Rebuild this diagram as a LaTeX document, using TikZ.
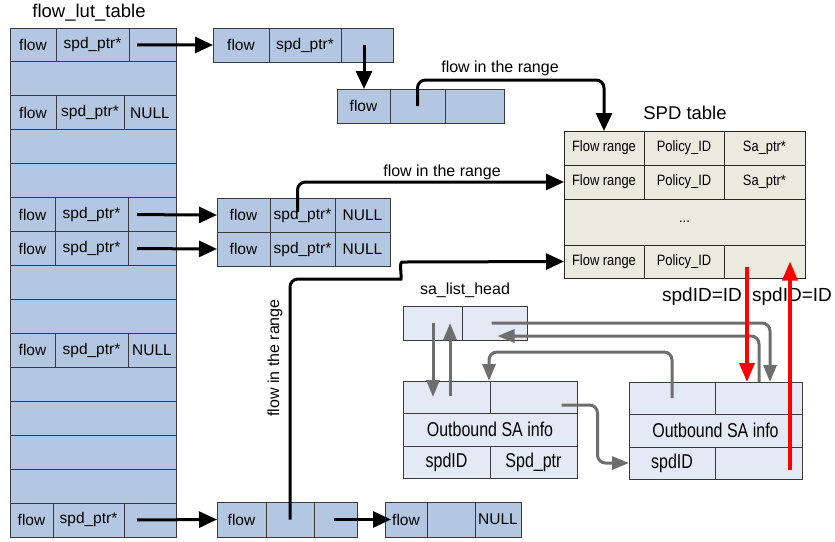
\documentclass[tikz,border=0pt]{standalone}
\usepackage{fontspec}
\setmainfont{Liberation Sans}
\newfontfamily\saface[FakeStretch=0.8]{Liberation Sans}
\newfontfamily\spdface[FakeStretch=0.86]{Liberation Sans}
\usetikzlibrary{arrows.meta,calc}
\definecolor{lutblue}{HTML}{B4C7E2}
\definecolor{sablue}{HTML}{E4EAF5}
\definecolor{spdgray}{HTML}{EAEBDE}
\definecolor{bordergray}{HTML}{3A3A3A}
\definecolor{arrowgray}{HTML}{6E6E6E}
\newcommand{\bcell}[7]{\node[#1, minimum width={(#5-#3)*1pt}, minimum height={(#6-#4)*1pt}] (#2) at (#3,#4) {#7};}
\newcommand{\lutrow}[5]{%
  \pgfmathsetmacro\ry{28+33.93*#1}%
  \pgfmathsetmacro\rb{\ry+33.93}%
  \bcell{lut}{t#1a}{10}{\ry}{#2}{\rb}{flow}
  \bcell{lut}{t#1b}{#2}{\ry}{#3}{\rb}{#4}
  \bcell{lut}{t#1c}{#3}{\ry}{176}{\rb}{#5}
}
\begin{document}
\begin{tikzpicture}[x=1pt,y=-1pt,
  cellbox/.style={draw=bordergray, line width=0.9pt, inner sep=0pt, outer sep=0pt, anchor=north west, font=\fontsize{15.5}{18}\selectfont},
  lut/.style={cellbox, fill=lutblue},
  sa/.style={cellbox, fill=sablue, font=\saface\fontsize{20}{22}\selectfont},
  spd/.style={cellbox, fill=spdgray, draw=black!85, font=\spdface\fontsize{15}{17}\selectfont},
  blk/.style={line width=3pt, draw=black, -{Triangle[length=18pt,width=16pt]}, rounded corners=8pt},
  gry/.style={line width=3pt, draw=arrowgray, -{Triangle[length=17pt,width=13pt]}, rounded corners=8pt},
  redarr/.style={line width=3.5pt, draw=red, -{Triangle[length=19pt,width=15pt]}},
  lbl/.style={font=\fontsize{16}{19}\selectfont, inner sep=0pt},
  title/.style={font=\fontsize{18.5}{22}\selectfont, inner sep=0pt}]
\useasboundingbox (0,0) rectangle (835,541);

% flow_lut_table
\node[title] (luttitle) at (89,13) {flow\_lut\_table};
\foreach \i in {1,3,4,7,8,10,11,12,13}{
  \node[lut, minimum width=166pt, minimum height=33.93pt] (t\i) at (10,{28+33.93*\i}) {};
}
\lutrow{0}{56}{129}{spd\_ptr*}{}
\lutrow{2}{56}{124}{spd\_ptr*}{NULL}
\lutrow{5}{55}{128}{spd\_ptr*}{}
\lutrow{6}{55}{128}{spd\_ptr*}{}
\lutrow{9}{55}{128}{spd\_ptr*}{NULL\hspace{8pt}}
\lutrow{14}{53}{124}{spd\_ptr*}{}

% chained flow boxes
\bcell{lut}{A1}{213}{28}{269}{62}{flow}
\bcell{lut}{A2}{269}{28}{341}{62}{spd\_ptr*\hspace{9pt}}
\bcell{lut}{A3}{341}{28}{393}{62}{}
\bcell{lut}{B1}{337}{89}{390}{123}{flow}
\bcell{lut}{B2}{390}{89}{445}{123}{}
\bcell{lut}{B3}{445}{89}{504}{123}{}
\bcell{lut}{C1}{217}{198}{270}{232}{flow}
\bcell{lut}{C2}{270}{198}{335}{232}{spd\_ptr*\hspace{8pt}}
\bcell{lut}{C3}{335}{198}{390}{232}{NULL}
\bcell{lut}{D1}{217}{232}{270}{266}{flow}
\bcell{lut}{D2}{270}{232}{335}{266}{spd\_ptr*\hspace{8pt}}
\bcell{lut}{D3}{335}{232}{390}{266}{NULL}
\bcell{lut}{F1}{217}{502}{266}{537}{flow}
\bcell{lut}{F2}{266}{502}{314}{537}{}
\bcell{lut}{F3}{314}{502}{357}{537}{}
\bcell{lut}{G1}{385}{502}{427}{537}{flow}
\bcell{lut}{G2}{427}{502}{475}{537}{}
\bcell{lut}{G3}{475}{502}{521}{537}{NULL}

% SPD table
\node[title] (spdtitle) at (685,113) {SPD table};
\bcell{spd}{S11}{564}{131}{644}{165}{Flow range}
\bcell{spd}{S12}{644}{131}{724}{165}{Policy\_ID}
\bcell{spd}{S13}{724}{131}{805}{165}{Sa\_ptr*}
\bcell{spd}{S21}{564}{165}{644}{199}{Flow range}
\bcell{spd}{S22}{644}{165}{724}{199}{Policy\_ID}
\bcell{spd}{S23}{724}{165}{805}{199}{Sa\_ptr*}
\bcell{spd}{S3}{564}{199}{805}{245}{...}
\bcell{spd}{S41}{564}{245}{644}{278}{Flow range}
\bcell{spd}{S42}{644}{245}{724}{278}{Policy\_ID}
\bcell{spd}{S43}{724}{245}{805}{278}{}

% sa list
\node[lbl] (satitle) at (465,290) {sa\_list\_head};
\bcell{sa}{H1}{403}{306}{462}{340}{}
\bcell{sa}{H2}{462}{306}{527}{340}{}
\bcell{sa}{L1}{403}{381}{490}{413}{}
\bcell{sa}{L2}{490}{381}{577}{413}{}
\bcell{sa}{L3}{403}{413}{577}{446}{Outbound SA info}
\bcell{sa}{L4}{403}{446}{490}{478}{spdID}
\bcell{sa}{L5}{490}{446}{577}{478}{Spd\_ptr}
\bcell{sa}{R1}{629}{382}{715}{414}{}
\bcell{sa}{R2}{715}{382}{802}{414}{}
\bcell{sa}{R3}{629}{414}{802}{447}{Outbound SA info}
\bcell{sa}{R4}{629}{447}{715}{479}{spdID}
\bcell{sa}{R5}{715}{447}{802}{479}{}

% black arrows
\coordinate (a1s) at ($(t0c.west)+(8,0)$);
\draw[blk] (a1s) -- (A1.west);
\coordinate (a2s) at ($(A3.center)+(-3,0)$);
\draw[blk] (a2s) -- (a2s |- B1.north);
\draw[blk] (B2.center) -- ++(0,-26) -| (S11.north);
\node[lbl] (lab1) at (500,68) {flow in the range};
\coordinate (c2s) at ($(C2.center)+(-5,-3)$);
\draw[blk] (c2s) |- (S21.west);
\node[lbl] (lab2) at (442,172) {flow in the range};
\coordinate (a5s) at ($(t5c.west)+(9,0)$);
\draw[blk] (a5s) -- (C1.west);
\coordinate (a6s) at ($(t6c.west)+(9,0)$);
\draw[blk] (a6s) -- (D1.west);
\coordinate (a7s) at ($(t14c.west)+(13,0)$);
\draw[blk] (a7s) -- (F1.west);
\coordinate (a8s) at ($(F3.center)+(-2,0)$);
\coordinate (a8e) at ($(G1.west)+(6,0)$);
\draw[blk] (a8s) -- (a8e);
\coordinate (j1) at (393,279);
\coordinate (j2) at (410,262);
\draw[blk] (F2.center) |- (j1) .. controls (402,279) and (399,262) .. (j2) -- (S41.west);
\node[lbl, rotate=90] (lab3) at (275,358) {flow in the range};

% grey arrows
\coordinate (g1s) at ($(H1.center)+(0.5,0)$);
\draw[gry] (g1s) -- (g1s |- L1.center);
\coordinate (g2s) at ($(H1.center)+(17.5,73)$);
\draw[gry] (g2s) -- (g2s |- H1.center);
\coordinate (g3s) at ($(H2.center)+(-3,0)$);
\coordinate (g3e) at ($(R2.north)+(11.5,0)$);
\draw[gry] (g3s) -| (g3e);
\coordinate (g4s) at ($(R2.north)+(0.5,0)$);
\coordinate (g4e) at ($(H2.center)+(3,13)$);
\draw[gry] (g4s) |- (g4e);
\coordinate (g5e) at ($(L2.north west)+(-1,0)$);
\draw[gry] (R1.center) -- ++(0,-46) -| (g5e);
\coordinate (g6s) at ($(L2.center)+(28,8)$);
\draw[gry] (g6s) -- ++(36,0) |- (R4.west);

% red arrows and labels
\node[lbl, font=\fontsize{19}{22}\selectfont] (id1) at (702,297) {spdID=ID};
\node[lbl, font=\fontsize{19}{22}\selectfont] (id2) at (792,297) {spdID=ID};
\coordinate (r1s) at ($(S43.center)+(-17.5,5)$);
\draw[redarr] (r1s) -- (r1s |- R2.north);
\coordinate (r2s) at ($(R5.center)+(31.5,7)$);
\draw[redarr] (r2s) -- (r2s |- S43.center);
\end{tikzpicture}
\end{document}
